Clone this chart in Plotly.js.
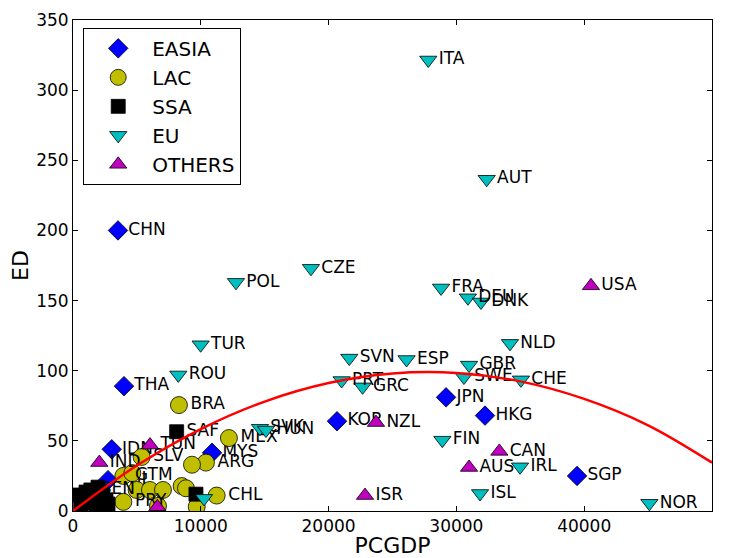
<!DOCTYPE html>
<html>
<head>
<meta charset="utf-8">
<script src="https://cdn.plot.ly/plotly-3.0.1.min.js"></script>
<style>html,body{margin:0;padding:0;background:#fff}#chart{width:736px;height:558px}</style>
</head>
<body>
<div id="chart"></div>
<script>
// EASIA
const easiaCodes = ["CHN","THA","IDN","PHL","MYS","KOR","JPN","HKG","SGP"];
const easiaGDP   = [3520, 3990, 3030, 2740, 10880, 20660, 29190, 32240, 39440];
const easiaED    = [200, 89, 44, 22, 41.5, 64, 81, 68, 25];

// LAC
const lacCodes = ["BRA","MEX","ARG","","SLV","GTM","","","","","PRY","","","","","CHL"];
const lacGDP   = [8290, 12200, 10400, 9310, 5370, 3940, 4640, 4980, 6020, 7040, 3940, 6650, 8500, 8840, 9680, 11240];
const lacED    = [75.5, 52, 34.5, 33, 38.5, 25, 27, 15, 15, 15, 6.5, 3.6, 17.8, 16.2, 3, 11];

// SSA
const ssaCodes = ["SAF","","","","","","","","","","","","","","SEN"];
const ssaGDP   = [8110, 9620, 550, 1020, 1960, 2270, 2580, 2740, 1800, 860, 1330, 2110, 2430, 600, 1400];
const ssaED    = [56.5, 12, 11.4, 13.5, 17, 13.5, 8, 5, 4.3, 5.7, 9.3, 7, 3, 2, 15];

// EU
const euCodes = ["ITA","AUT","CZE","POL","FRA","DEU","DNK","TUR","ROU","NLD","SVN","ESP","GBR","SWE","CHE","PRT","GRC","FIN","IRL","ISL","NOR","SVK","HUN",""];
const euGDP   = [27800, 32370, 18620, 12750, 28800, 30900, 31920, 9990, 8240, 34190, 21620, 26100, 30990, 30590, 35050, 21020, 22660, 28900, 34980, 31850, 45100, 14630, 15100, 10250];
const euED    = [321.5, 236.5, 173, 163, 159, 152, 149, 118.5, 97, 119.5, 109, 108, 104, 95.5, 93.5, 93, 88.5, 50.5, 31.5, 12.5, 5.5, 59, 57.7, 9];

// OTHERS
const othCodes = ["USA","NZL","CAN","AUS","ISR","IND","TUN",""];
const othGDP   = [40530, 23710, 33360, 30990, 22850, 2060, 6025, 6600];
const othED    = [160.5, 63, 42.5, 31, 11, 34.5, 47, 3];

// Fitted curve
const fitGDP = [0, 5000, 10000, 15000, 20000, 25000, 30000, 35000, 40000, 45000, 50000];
const fitED  = [0, 32.4, 58.4, 78, 91.2, 98, 98.4, 92.4, 79.9, 61.1, 34.5];

const FONT = "DejaVu Sans, sans-serif";
const edge = {color: "#000", width: 0.8};
const txt = {family: FONT, size: 17, color: "#000"};

function grp(name, x, y, codes, symbol, color, size) {
  return {
    type: "scatter", mode: "markers+text", name: name,
    x: x, y: y, text: codes, textposition: "middle right",
    textfont: txt,
    marker: {symbol: symbol, color: color, size: size, line: edge},
    hoverinfo: "x+y+text"
  };
}

const data = [
  grp("EASIA", easiaGDP, easiaED, easiaCodes, "diamond", "#0000ff", 15),
  grp("LAC", lacGDP, lacED, lacCodes, "circle", "#bfbf00", 17),
  grp("SSA", ssaGDP, ssaED, ssaCodes, "square", "#000000", 14),
  grp("EU", euGDP, euED, euCodes, "triangle-down", "#00bfbf", 15),
  grp("OTHERS", othGDP, othED, othCodes, "triangle-up", "#bf00bf", 15),
  {type: "scatter", mode: "lines", x: fitGDP, y: fitED, showlegend: false,
   line: {color: "#ff0000", width: 2.5, shape: "spline"}, hoverinfo: "skip"}
];

const axisCommon = {
  showgrid: false, zeroline: false, showline: true, linecolor: "#000", linewidth: 1,
  mirror: "allticks", ticks: "inside", ticklen: 5, tickcolor: "#000",
  tickfont: {family: FONT, size: 17, color: "#000"}
};

const layout = {
  width: 736, height: 558,
  margin: {l: 73, r: 24, t: 20, b: 47},
  paper_bgcolor: "#fff", plot_bgcolor: "#fff",
  font: {family: FONT, color: "#000"},
  xaxis: Object.assign({}, axisCommon, {
    range: [0, 50000], tickvals: [0,10000,20000,30000,40000,50000], tickformat: "d",
    title: {text: "PCGDP", font: {family: FONT, size: 22, color: "#000"}, standoff: 4}
  }),
  yaxis: Object.assign({}, axisCommon, {
    range: [0, 350], tickvals: [0,50,100,150,200,250,300,350],
    title: {text: "ED", font: {family: FONT, size: 22, color: "#000"}, standoff: 1}
  }),
  legend: {
    x: 0.016, y: 0.984, xanchor: "left", yanchor: "top",
    bgcolor: "#fff", bordercolor: "#000", borderwidth: 1,
    font: {family: FONT, size: 20, color: "#000"},
    itemsizing: "trace", itemwidth: 58
  },
  showlegend: true
};

Plotly.newPlot("chart", data, layout, {displayModeBar: false, staticPlot: true});
</script>
</body>
</html>
